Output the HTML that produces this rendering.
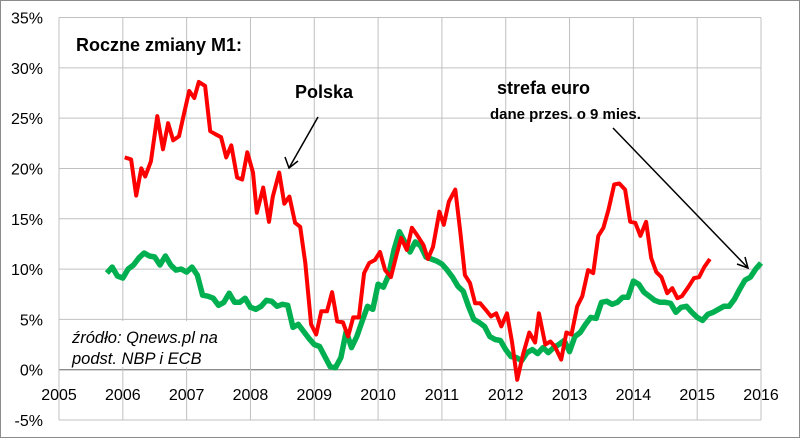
<!DOCTYPE html>
<html><head><meta charset="utf-8"><style>
html,body{margin:0;padding:0;background:#fff}
svg{display:block;font-family:"Liberation Sans",Arial,sans-serif}
</style></head><body>
<svg id="chart" width="800" height="438" viewBox="0 0 800 438">
<rect x="0.5" y="0.5" width="799" height="437" fill="#fff" stroke="#8c8c8c"/>
<g id="grid"></g>
<g id="axes"></g>
<rect x="62" y="321" width="188" height="46" fill="#fff"/>
<text x="72" y="343" font-size="16.5" font-style="italic">źródło: Qnews.pl na</text>
<text x="72" y="364" font-size="16.5" font-style="italic">podst. NBP i ECB</text>
<g id="series"></g>
<text x="76" y="51" font-size="18" font-weight="bold">Roczne zmiany M1:</text>
<text x="295" y="98" font-size="18" font-weight="bold">Polska</text>
<text x="497" y="94" font-size="18" font-weight="bold">strefa euro</text>
<text x="490" y="119" font-size="15" font-weight="bold">dane przes. o 9 mies.</text>
<g stroke="#000" stroke-width="1.5" fill="none">
<line x1="318" y1="117" x2="289" y2="168"/>
<polyline points="285,157 289,168 298,161"/>
<line x1="613" y1="128" x2="748" y2="268"/>
<polyline points="737,264 748,268 745,257"/>
</g>
</svg>
<script>
const yTicks=[35,30,25,20,15,10,5,0,-5];
const xTicks=[2005,2006,2007,2008,2009,2010,2011,2012,2013,2014,2015,2016];
const plDates=[2006.03,2006.13,2006.21,2006.29,2006.35,2006.44,2006.54,2006.63,2006.71,2006.79,2006.88,2006.94,2007.04,2007.12,2007.19,2007.29,2007.37,2007.45,2007.54,2007.62,2007.70,2007.79,2007.87,2007.95,2008.04,2008.10,2008.20,2008.29,2008.35,2008.45,2008.53,2008.61,2008.70,2008.78,2008.86,2008.95,2009.03,2009.11,2009.20,2009.28,2009.36,2009.45,2009.53,2009.61,2009.70,2009.78,2009.86,2009.95,2010.03,2010.11,2010.20,2010.28,2010.36,2010.45,2010.53,2010.61,2010.71,2010.78,2010.86,2010.96,2011.03,2011.11,2011.21,2011.29,2011.36,2011.44,2011.52,2011.60,2011.68,2011.77,2011.85,2011.93,2012.02,2012.10,2012.18,2012.27,2012.37,2012.46,2012.52,2012.62,2012.70,2012.77,2012.87,2012.95,2013.03,2013.12,2013.20,2013.29,2013.37,2013.45,2013.53,2013.61,2013.70,2013.78,2013.87,2013.95,2014.03,2014.11,2014.20,2014.28,2014.36,2014.44,2014.53,2014.61,2014.69,2014.76,2014.86,2014.95,2015.03,2015.11,2015.20];
const plValues=[21.1,20.9,17.3,20.0,19.2,20.7,25.2,21.9,24.5,22.8,23.2,24.9,27.7,27.0,28.6,28.2,23.7,23.4,23.1,21.1,22.3,19.1,18.9,21.6,19.6,15.6,18.1,14.7,17.2,19.6,16.5,17.2,14.6,14.2,10.6,4.5,3.5,5.8,5.8,7.7,4.8,4.7,3.3,5.2,5.2,9.6,10.6,10.9,11.7,9.9,9.2,11.2,13.1,11.9,14.1,13.4,12.4,11.0,12.2,15.7,14.4,16.7,17.9,13.6,9.4,8.6,6.6,6.6,6.0,5.3,5.6,4.3,5.6,2.7,-1.0,1.5,3.7,2.7,5.6,2.5,2.8,2.3,1.0,3.7,3.5,6.3,7.3,9.9,9.6,13.3,14.1,15.9,18.4,18.5,17.9,14.7,14.6,13.3,14.7,11.1,9.7,9.2,7.6,8.1,7.1,7.3,8.2,9.1,9.2,10.2,11.0];
const euStart=2005+9/12;
const euValues=[9.6,10.2,9.3,9.1,10.0,10.4,11.1,11.6,11.3,11.2,10.4,11.3,10.4,9.9,10.0,9.7,10.2,9.4,7.4,7.3,7.1,6.4,6.7,7.6,6.7,6.7,7.1,6.2,6.0,6.3,6.9,6.8,6.3,6.5,6.4,4.2,4.5,3.8,3.1,2.5,2.3,1.3,0.3,0.2,1.2,3.8,2.2,3.3,4.8,6.3,6.0,8.5,8.2,9.4,11.9,13.7,12.7,11.7,12.7,12.3,11.2,11.0,10.8,10.5,9.9,9.2,8.3,7.8,6.3,5.0,4.7,4.3,3.3,3.0,2.9,2.0,1.3,1.2,0.9,1.7,2.0,1.6,2.2,1.7,2.2,2.5,2.9,1.8,3.3,3.7,4.5,5.2,5.1,6.7,6.8,6.5,6.7,7.2,7.2,8.8,8.5,7.7,7.3,6.9,6.7,6.7,6.6,5.7,6.2,6.3,5.7,5.2,4.9,5.5,5.7,6.0,6.3,6.3,7.0,8.0,8.9,9.2,10.0,10.6];

const NS='http://www.w3.org/2000/svg';
const L=59,R=761,T=17.5,B=420;
function xs(t){return L+(t-2005)/(2016-2005)*(R-L);}
function ys(v){return B-(v+5)/40*(B-T);}
const grid=document.getElementById('grid'),axes=document.getElementById('axes'),ser=document.getElementById('series');
function mk(tag,attrs,parent){const e=document.createElementNS(NS,tag);for(const k in attrs)e.setAttribute(k,attrs[k]);parent.appendChild(e);return e;}
yTicks.forEach(v=>{
  const l=mk('line',{x1:L,x2:R,y1:ys(v),y2:ys(v),stroke:v===0?'#8c8c8c':'#c0c0c0','stroke-width':v===0?1.3:1},grid);
  
  
  const t=mk('text',{x:43,y:ys(v)+6,'text-anchor':'end','font-size':16,fill:'#000'},axes);
  t.textContent=v+'%';
  
  
});
xTicks.forEach(v=>{
  const l=mk('line',{x1:xs(v),x2:xs(v),y1:T,y2:B,stroke:'#c0c0c0','stroke-width':1},grid);
  
  
  const t=mk('text',{x:xs(v),y:400,'text-anchor':'middle','font-size':16,fill:'#000'},axes);
  t.textContent=v;
  
  
});
const eu=mk('polyline',{points:euValues.map((v,i)=>xs(euStart+i/12).toFixed(1)+','+ys(v).toFixed(1)).join(' '),fill:'none',stroke:'#00b050','stroke-width':5.5,'stroke-linejoin':'round'},ser);


const pl=mk('polyline',{points:plValues.map((v,i)=>xs(plDates[i]).toFixed(1)+','+ys(v).toFixed(1)).join(' '),fill:'none',stroke:'#ff0000','stroke-width':4,'stroke-linejoin':'round'},ser);


</script>
</body></html>
